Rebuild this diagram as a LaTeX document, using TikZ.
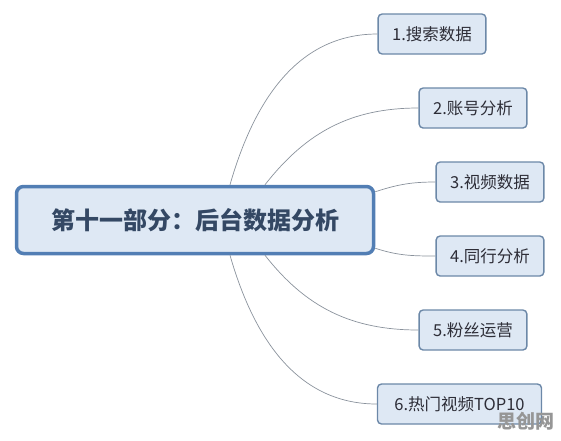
\documentclass[tikz,border=0pt]{standalone}
\usepackage{fontspec}
\setmainfont{Noto Sans CJK SC}
\usetikzlibrary{positioning,calc}
\definecolor{MapSlate}{RGB}{52,72,100}
\definecolor{MapInk}{RGB}{45,45,55}
\definecolor{MapBlue}{RGB}{82,126,180}
\definecolor{MapEdge}{RGB}{108,136,168}
\definecolor{MapSoft}{RGB}{222,232,244}
\definecolor{MapLine}{RGB}{138,146,156}
\definecolor{MapMark}{RGB}{150,150,150}
\tikzset{
  map box/.style={
    fill=MapSoft,
    align=center,
    inner sep=0pt
  },
  map root/.style={map box, draw=MapBlue, line width=3.5pt, rounded corners=7pt,
    minimum width=357pt, minimum height=67pt, text=MapSlate, font=\fontsize{24}{28}\selectfont\bfseries},
  map leaf/.style={map box, draw=MapEdge, line width=1.4pt, rounded corners=4pt,
    minimum height=40pt, inner xsep=14pt, text=MapInk, font=\fontsize{16.5}{19}\selectfont},
  map branch/.style={line width=0.7pt, MapLine},
  map mark/.style={font=\fontsize{19}{22}\selectfont\bfseries, text=MapMark}
}

\begin{document}
\begin{tikzpicture}[x=1pt,y=-1pt]
\useasboundingbox (0,0) rectangle (561,440);
\node[map root] (main) at (195,220) {第十一部分：后台数据分析};
\node[map leaf] (search) at (432,34) {1.搜索数据};
\node[map leaf] (account) at (473,108) {2.账号分析};
\node[map leaf] (video) at (490,182) {3.视频数据};
\node[map leaf] (peer) at (490,256) {4.同行分析};
\node[map leaf] (fans) at (473,330) {5.粉丝运营};
\node[map leaf, minimum width=164pt] (hot) at (459.5,404) {6.热门视频TOP10};
\node[map mark] (mark) at (526,421) {思创网};
\draw[map branch] ([xshift=35pt]main.north) to[out=74,in=180] (search.west);
\draw[map branch] ([xshift=70pt]main.north) to[out=52,in=180] (account.west);
\draw[map branch] ([yshift=-7pt]main.north east) to[out=18,in=180] (video.west);
\draw[map branch] ([yshift=7pt]main.south east) to[out=-18,in=180] (peer.west);
\draw[map branch] ([xshift=70pt]main.south) to[out=-52,in=180] (fans.west);
\draw[map branch] ([xshift=35pt]main.south) to[out=-74,in=180] (hot.west);
\end{tikzpicture}
\end{document}
